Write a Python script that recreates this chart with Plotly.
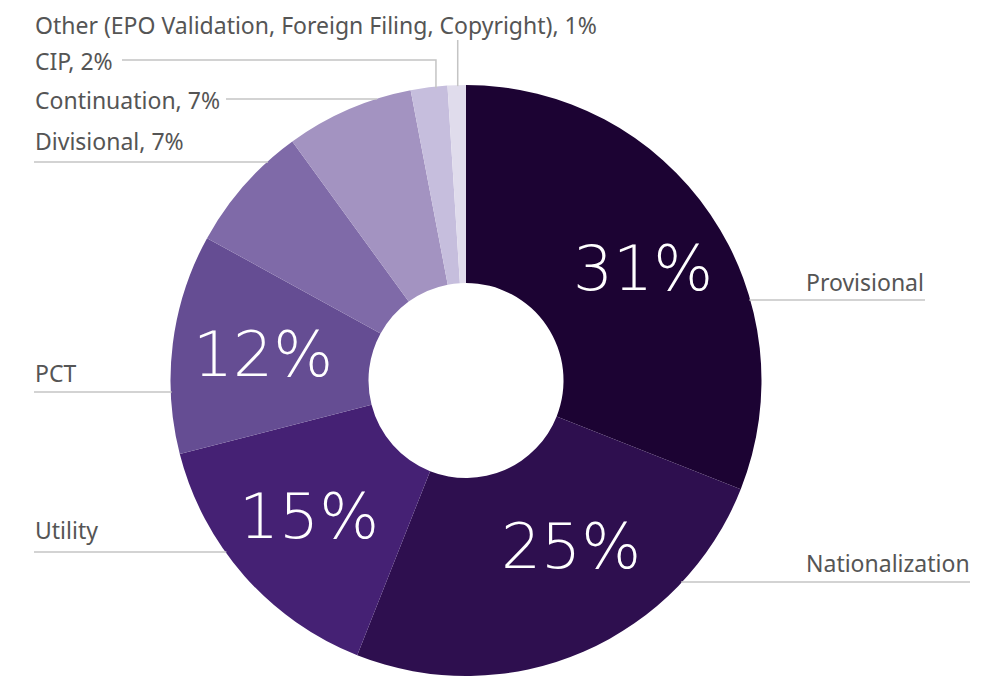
import math
import plotly.graph_objects as go

categories = ["Provisional", "Nationalization", "Utility", "PCT", "Divisional",
              "Continuation", "CIP", "Other (EPO Validation, Foreign Filing, Copyright)"]
values = [31, 25, 15, 12, 7, 7, 2, 1]
colors = ["#1c0333", "#2e0f4f", "#452174", "#654d93", "#7f6aa8", "#a393c1", "#c6bedd", "#e0dcec"]
inside_labels = [True, True, True, True, False, False, False, False]
outside_text = ["Provisional", "Nationalization", "Utility", "PCT", "Divisional, 7%",
                "Continuation, 7%", "CIP, 2%", "Other (EPO Validation, Foreign Filing, Copyright), 1%"]

W, H = 992, 676
OFF = 8  # page body margin
CX, CY, R = 466, 380.5, 295.5
HOLE = 0.33

def px(x):
    return (x - OFF) / W

def py(y):
    return 1 - (y - OFF) / H

fig = go.Figure()
fig.add_trace(go.Pie(
    labels=categories, values=values, sort=False, direction="clockwise", rotation=0,
    hole=HOLE, textinfo="none", hoverinfo="label+percent",
    marker=dict(colors=colors, line=dict(width=0)),
    domain=dict(x=[px(CX - R), px(CX + R)], y=[py(CY + R), py(CY - R)]),
    showlegend=False,
))

total = sum(values)
annotations = []
label_nudge = {"Nationalization": (24, -22), "Provisional": (7, 3), "Utility": (-3, 0)}
cum = 0
for i, v in enumerate(values):
    mid = (cum + v / 2) / total * 2 * math.pi
    cum += v
    if inside_labels[i]:
        r = 205
        nx, ny = label_nudge.get(categories[i], (0, 0))
        x = CX + r * math.sin(mid) + nx
        y = CY - r * math.cos(mid) + ny
        annotations.append(dict(
            x=px(x), y=py(y), xref="paper", yref="paper", showarrow=False,
            text=f"{round(v / total * 100)}%", xanchor="center", yanchor="middle",
            font=dict(family="DejaVu Sans", size=63, color="white", weight=200),
        ))

# outside label layout (pixel positions)
label_pos = {
    "Provisional": (805, 282, "under", 300),
    "Nationalization": (805, 563, "under", 582),
    "Utility": (34, 530, "under", 552),
    "PCT": (34, 373, "under", 392),
    "Divisional": (34, 141, "under", 162),
    "Continuation": (34, 100, "side", 99),
    "CIP": (34, 61, "elbow", 60),
    "Other (EPO Validation, Foreign Filing, Copyright)": (34, 24.5, "vert", 40),
}
text_right = {"Provisional": 925, "Nationalization": 970, "Continuation": 226, "CIP": 122}

shapes = []
line_style = dict(color="#c4c4c4", width=1.5)

def edge_x(y, side):
    dy = y - CY
    dx = math.sqrt(max(R * R - dy * dy, 0))
    return CX - dx if side == "left" else CX + dx

cum = 0
for i, cat in enumerate(categories):
    v = values[i]
    mid = (cum + v / 2) / total * 2 * math.pi
    cum += v
    tx, ty, kind, ly = label_pos[cat]
    annotations.append(dict(
        x=px(tx - 1), y=py(ty), xref="paper", yref="paper", showarrow=False,
        text=outside_text[i], xanchor="left", yanchor="middle",
        font=dict(family="Noto Sans", size=23, color="#555555"),
    ))
    if kind == "under":
        if tx > CX:
            x0, x1 = edge_x(ly, "right") - 1, text_right[cat]
        else:
            x0, x1 = tx, edge_x(ly, "left") + 1
        shapes.append(dict(type="line", xref="paper", yref="paper",
                           x0=px(x0), x1=px(x1), y0=py(ly), y1=py(ly), line=line_style))
    elif kind == "side":
        shapes.append(dict(type="line", xref="paper", yref="paper",
                           x0=px(text_right[cat]), x1=px(edge_x(ly, "left") + 1),
                           y0=py(ly), y1=py(ly), line=line_style))
    elif kind == "elbow":
        ex = CX + R * math.sin(mid) + 7
        ey = CY - R * math.cos(mid)
        shapes.append(dict(type="path", xref="paper", yref="paper",
                           path=f"M {px(text_right[cat])} {py(ly)} L {px(ex)} {py(ly)} L {px(ex)} {py(ey + 1)}",
                           line=line_style))
    elif kind == "vert":
        ex = CX + R * math.sin(mid) + 1
        ey = CY - R * math.cos(mid)
        shapes.append(dict(type="line", xref="paper", yref="paper",
                           x0=px(ex), x1=px(ex), y0=py(ly), y1=py(ey + 1), line=line_style))

fig.update_layout(
    width=W, height=H, margin=dict(l=0, r=0, t=0, b=0),
    paper_bgcolor="white", plot_bgcolor="white",
    annotations=annotations, shapes=shapes,
)
fig.write_html("out.html")
